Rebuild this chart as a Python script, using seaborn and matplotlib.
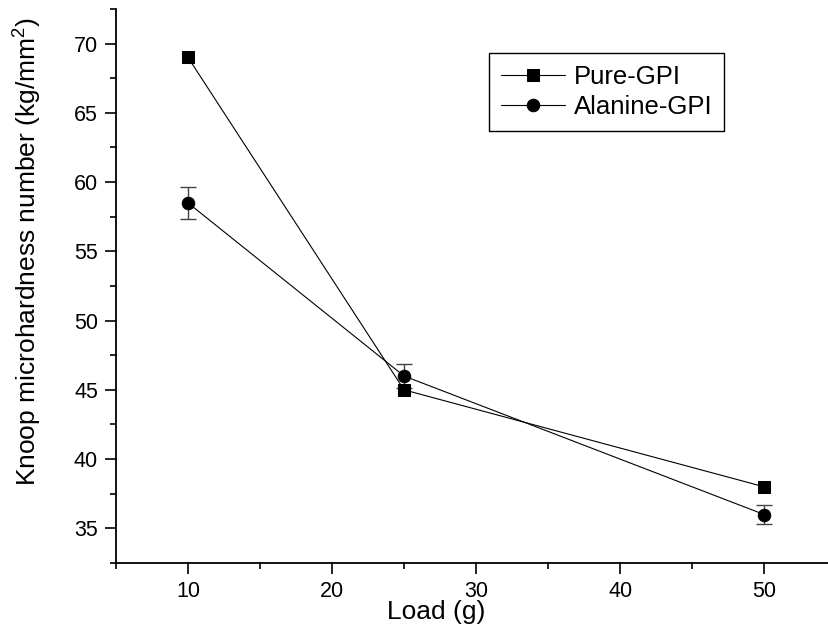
import matplotlib
matplotlib.use('Agg')
import matplotlib.pyplot as plt
import seaborn as sns
import pandas as pd
from matplotlib.ticker import MultipleLocator

# data
load = [10, 25, 50]
pure_gpi = [69.0, 45.0, 38.0]
alanine_gpi = [58.5, 46.0, 36.0]
alanine_err = [1.15, 0.9, 0.7]
series_names = ['Pure-GPI', 'Alanine-GPI']

sns.set_style('ticks')
plt.rcParams['font.family'] = ['Liberation Sans', 'DejaVu Sans']
plt.rcParams['mathtext.fontset'] = 'custom'
plt.rcParams['mathtext.rm'] = 'Liberation Sans'
plt.rcParams['mathtext.default'] = 'regular'
plt.rcParams['text.color'] = 'black'
plt.rcParams['axes.labelcolor'] = 'black'
plt.rcParams['xtick.color'] = 'black'
plt.rcParams['ytick.color'] = 'black'

df = pd.DataFrame({'Load': load * 2,
                   'H': pure_gpi + alanine_gpi,
                   'Sample': [series_names[0]] * 3 + [series_names[1]] * 3})

fig = plt.figure(figsize=(8.29, 6.3), dpi=100)
ax = fig.add_axes([116 / 829, 1 - 563 / 630, 1 - 116 / 829, (563 - 9) / 630])

sns.lineplot(data=df, x='Load', y='H', hue='Sample', style='Sample',
             markers={'Pure-GPI': 's', 'Alanine-GPI': 'o'}, dashes=False,
             palette={'Pure-GPI': 'black', 'Alanine-GPI': 'black'},
             linewidth=0.8, markersize=9, markeredgecolor='black',
             ax=ax, legend=True)
ax.lines[0].set_markersize(8)
ax.errorbar(load, alanine_gpi, yerr=alanine_err, fmt='none', ecolor='#444444',
            elinewidth=1.0, capsize=6, capthick=1.0, zorder=1)

ax.set_xlim(5, 54.5)
ax.set_ylim(32.5, 72.5)
ax.xaxis.set_major_locator(MultipleLocator(10))
ax.xaxis.set_minor_locator(MultipleLocator(5))
ax.yaxis.set_major_locator(MultipleLocator(5))
ax.yaxis.set_minor_locator(MultipleLocator(2.5))
ax.tick_params(which='major', length=8, width=1.2, labelsize=15.5, pad=5)
ax.tick_params(which='minor', length=4.5, width=1.2)
for s in ['top', 'right']:
    ax.spines[s].set_visible(False)
for s in ['left', 'bottom']:
    ax.spines[s].set_linewidth(1.3)
    ax.spines[s].set_color('black')

ax.set_xlabel('Load (g)', fontsize=19)
ax.set_ylabel('Knoop microhardness number (kg/mm$^{2}$)', fontsize=19)
ax.xaxis.set_label_coords(0.449, -0.067)
ax.yaxis.set_label_coords(-0.101, 0.563)

leg = ax.legend(loc='upper left', bbox_to_anchor=(489 / 829, 1 - 53 / 630),
                bbox_transform=fig.transFigure, borderaxespad=0, fontsize=18.5,
                fancybox=False, framealpha=1, edgecolor='black', handlelength=2.5,
                handletextpad=0.35, labelspacing=0.25, borderpad=0.45)
leg.get_frame().set_linewidth(1.0)
for h in leg.legend_handles:
    h.set_linewidth(0.8)

fig.savefig('out.png', dpi=100)
